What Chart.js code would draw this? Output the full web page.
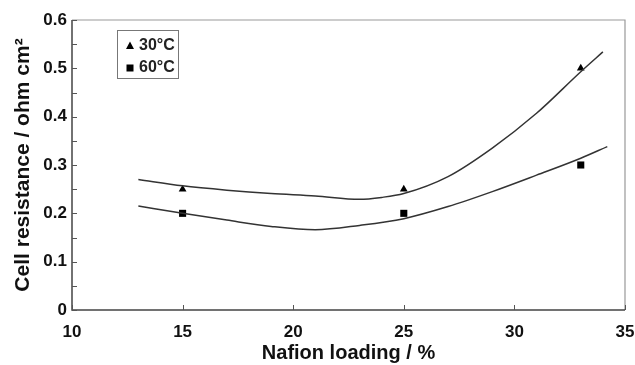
<!DOCTYPE html>
<html>
<head>
<meta charset="utf-8">
<script src="https://cdn.jsdelivr.net/npm/chart.js@4"></script>
<style>
  html, body { margin: 0; padding: 0; background: #fff; }
  #wrap { width: 635px; height: 365px; }
</style>
</head>
<body>
<div id="wrap"><canvas id="myChart"></canvas></div>
<script>
  // Measured points
  const loading = [15, 25, 33];
  const res30 = [0.25, 0.25, 0.5];
  const res60 = [0.2, 0.2, 0.3];

  // Fitted curves
  const fit30X = [13, 15, 17, 19, 21, 23, 24, 25, 27, 29, 31, 33, 34];
  const fit30Y = [0.270, 0.257, 0.248, 0.241, 0.236, 0.229, 0.233, 0.241, 0.276, 0.335, 0.407, 0.493, 0.534];
  const fit60X = [13, 15, 17, 19, 21, 23, 25, 27, 29, 31, 33, 34.2];
  const fit60Y = [0.215, 0.200, 0.186, 0.173, 0.166, 0.175, 0.189, 0.214, 0.245, 0.279, 0.314, 0.338];

  const legendLabels = ["30°C", "60°C"];

  const toXY = (xs, ys) => xs.map((x, i) => ({ x: x, y: ys[i] }));

  const fontFam = "'Liberation Sans', Arial, sans-serif";

  // frame, inward ticks and legend box
  const framePlugin = {
    id: "frame",
    afterDraw(chart) {
      const { ctx, chartArea: a, scales } = chart;
      ctx.save();
      // top and right in grey
      ctx.strokeStyle = "#999";
      ctx.lineWidth = 1.2;
      ctx.beginPath();
      ctx.moveTo(a.left, a.top);
      ctx.lineTo(a.right, a.top);
      ctx.lineTo(a.right, a.bottom);
      ctx.stroke();
      // left and bottom darker
      ctx.strokeStyle = "#444";
      ctx.lineWidth = 1.5;
      ctx.beginPath();
      ctx.moveTo(a.left, a.top);
      ctx.lineTo(a.left, a.bottom);
      ctx.lineTo(a.right, a.bottom);
      ctx.stroke();

      ctx.lineWidth = 1;
      ctx.strokeStyle = "#555";
      scales.y.ticks.forEach(t => {
        const py = Math.round(scales.y.getPixelForValue(t.value)) + 0.5;
        ctx.beginPath();
        ctx.moveTo(a.left, py);
        ctx.lineTo(a.left + 5, py);
        ctx.stroke();
      });
      scales.x.ticks.forEach(t => {
        const px = Math.round(scales.x.getPixelForValue(t.value)) + 0.5;
        ctx.beginPath();
        ctx.moveTo(px, a.bottom);
        ctx.lineTo(px, a.bottom - 5);
        ctx.stroke();
      });

      // legend
      ctx.strokeStyle = "#777";
      ctx.lineWidth = 1;
      ctx.strokeRect(117.5, 30.5, 61, 48);
      ctx.fillStyle = "#000";
      ctx.beginPath();
      ctx.moveTo(130, 41.5);
      ctx.lineTo(134, 49);
      ctx.lineTo(126, 49);
      ctx.closePath();
      ctx.fill();
      ctx.fillRect(126.5, 64.5, 7, 7);
      ctx.font = "bold 16px " + fontFam;
      ctx.textBaseline = "middle";
      ctx.textAlign = "left";
      ctx.fillStyle = "#222";
      ctx.fillText(legendLabels[0], 139, 46);
      ctx.fillText(legendLabels[1], 139, 68);
      ctx.restore();
    }
  };

  const config = {
    type: "scatter",
    data: {
      datasets: [
        {
          label: "fit 30",
          data: toXY(fit30X, fit30Y),
          showLine: true,
          cubicInterpolationMode: "monotone",
          borderColor: "#333",
          borderWidth: 1.5,
          pointRadius: 0
        },
        {
          label: "fit 60",
          data: toXY(fit60X, fit60Y),
          showLine: true,
          cubicInterpolationMode: "monotone",
          borderColor: "#333",
          borderWidth: 1.5,
          pointRadius: 0
        },
        {
          label: legendLabels[0],
          data: toXY(loading, res30),
          pointStyle: "triangle",
          pointRadius: 4.5,
          backgroundColor: "#000",
          borderColor: "#000",
          borderWidth: 0
        },
        {
          label: legendLabels[1],
          data: toXY(loading, res60),
          pointStyle: "rect",
          pointRadius: 5,
          backgroundColor: "#000",
          borderColor: "#000",
          borderWidth: 0
        }
      ]
    },
    options: {
      responsive: true,
      maintainAspectRatio: false,
      animation: false,
      layout: { padding: { left: 0, right: 10, top: 20, bottom: 0 } },
      plugins: {
        legend: { display: false },
        tooltip: { enabled: false }
      },
      scales: {
        x: {
          type: "linear",
          min: 10,
          max: 35,
          grid: { display: false, drawTicks: false },
          border: { display: false },
          ticks: {
            stepSize: 5,
            padding: 12,
            color: "#111",
            font: { family: fontFam, size: 17, weight: "bold" }
          },
          title: {
            display: true,
            text: "Nafion loading / %",
            color: "#111",
            padding: { top: 5, bottom: 0 },
            font: { family: fontFam, size: 20, weight: "bold" }
          },
          afterFit(scale) {
            scale.height = 55;
            scale.paddingLeft = 0;
            scale.paddingRight = 0;
          }
        },
        y: {
          type: "linear",
          min: 0,
          max: 0.6,
          grid: { display: false, drawTicks: false },
          border: { display: false },
          ticks: {
            stepSize: 0.05,
            autoSkip: false,
            padding: 5,
            color: "#111",
            font: { family: fontFam, size: 17, weight: "bold" },
            callback(v) {
              const n = Math.round(v * 100);
              if (n % 10 !== 0) return "";
              return n === 0 ? "0" : (n / 100).toFixed(1);
            }
          },
          title: {
            display: true,
            text: "Cell resistance / ohm cm²",
            color: "#111",
            padding: { top: 11, bottom: 0 },
            font: { family: fontFam, size: 21, weight: "bold" }
          },
          afterFit(scale) {
            scale.width = 72;
            scale.paddingTop = 0;
            scale.paddingBottom = 0;
          }
        }
      }
    },
    plugins: [framePlugin]
  };

  const ctx = document.getElementById("myChart").getContext("2d");
  const myChart = new Chart(ctx, config);
</script>
</body>
</html>
